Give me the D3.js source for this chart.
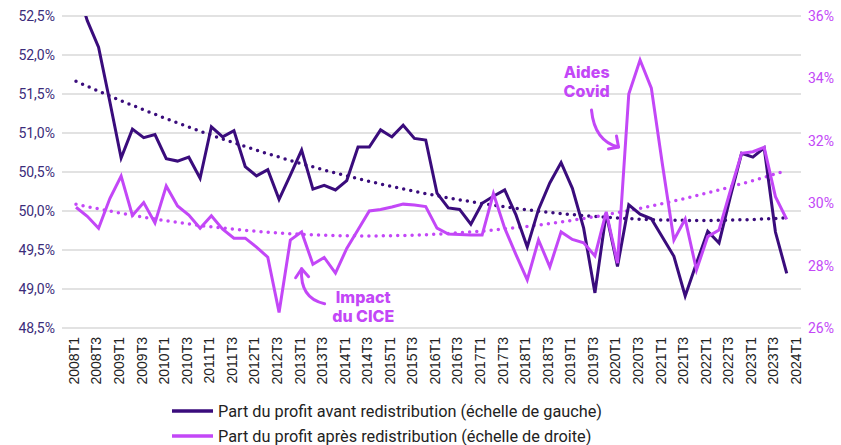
<!DOCTYPE html>
<html lang="fr">
<head>
<meta charset="UTF-8">
<title>Part du profit avant / après redistribution</title>
<script src="https://d3js.org/d3.v7.min.js"></script>
<style>
  body { margin: 0; background: #fff; }
  svg { display: block; font-family: Roboto, "Liberation Sans", sans-serif; }
  .grid line { stroke: #d9d9d9; stroke-width: 1.5; }
  .xlab { font-family: "Liberation Sans", Arial, sans-serif; font-size: 14px; fill: #222; }
  .note { font-family: Inter, "Open Sans", sans-serif; font-weight: 800; font-size: 16px; fill: #c347f7; }
</style>
</head>
<body>
<script>
const quarters = [
  "2008T1","2008T2","2008T3","2008T4","2009T1","2009T2","2009T3","2009T4",
  "2010T1","2010T2","2010T3","2010T4","2011T1","2011T2","2011T3","2011T4",
  "2012T1","2012T2","2012T3","2012T4","2013T1","2013T2","2013T3","2013T4",
  "2014T1","2014T2","2014T3","2014T4","2015T1","2015T2","2015T3","2015T4",
  "2016T1","2016T2","2016T3","2016T4","2017T1","2017T2","2017T3","2017T4",
  "2018T1","2018T2","2018T3","2018T4","2019T1","2019T2","2019T3","2019T4",
  "2020T1","2020T2","2020T3","2020T4","2021T1","2021T2","2021T3","2021T4",
  "2022T1","2022T2","2022T3","2022T4","2023T1","2023T2","2023T3","2023T4",
  "2024T1"
];

// part du profit avant redistribution (%, échelle de gauche)
const avant = [
  52.90, 52.44, 52.10, 51.40, 50.68, 51.05, 50.94, 50.98,
  50.67, 50.64, 50.69, 50.42, 51.08, 50.95, 51.03, 50.57,
  50.45, 50.53, 50.15, 50.46, 50.78, 50.28, 50.33, 50.27,
  50.39, 50.82, 50.82, 51.04, 50.95, 51.10, 50.93, 50.91,
  50.23, 50.04, 50.02, 49.83, 50.10, 50.19, 50.27, 49.95,
  49.54, 50.02, 50.36, 50.62, 50.29, 49.78, 48.95, 49.97,
  49.29, 50.08, 49.96, 49.90, 49.66, 49.42, 48.91, 49.33,
  49.74, 49.59, 50.18, 50.74, 50.69, 50.81, 49.73, 49.20
];

// part du profit après redistribution (%, échelle de droite)
const apres = [
  29.87, 29.58, 29.20, 30.15, 30.87, 29.61, 30.02, 29.37,
  30.55, 29.91, 29.62, 29.20, 29.60, 29.17, 28.88, 28.88,
  28.59, 28.27, 26.50, 28.82, 29.08, 28.04, 28.26, 27.76,
  28.55, 29.15, 29.75, 29.80, 29.88, 29.97, 29.94, 29.89,
  29.20, 29.01, 29.00, 28.98, 28.98, 30.31, 29.20, 28.35,
  27.54, 28.82, 27.96, 29.08, 28.84, 28.73, 28.31, 29.72,
  28.08, 33.50, 34.59, 33.69, 31.20, 28.82, 29.49, 27.86,
  28.93, 29.14, 30.39, 31.60, 31.65, 31.79, 30.21, 29.48
];

const leftTicks = [48.5, 49, 49.5, 50, 50.5, 51, 51.5, 52, 52.5];
const rightTicks = [26, 28, 30, 32, 34, 36];
const seriesNames = [
  "Part du profit avant redistribution (échelle de gauche)",
  "Part du profit après redistribution (échelle de droite)"
];

const dark = "#3a0c7c";
const pink = "#c347f7";
const width = 841, height = 445;
const plot = {left: 62, right: 801, top: 16, bottom: 328};

const svg = d3.select("body").append("svg")
  .attr("width", width)
  .attr("height", height);

const x = d3.scalePoint().domain(quarters).range([76, 798]);
const yL = d3.scaleLinear().domain([48.5, 52.5]).range([plot.bottom, plot.top]);
const yR = d3.scaleLinear().domain([26, 36]).range([plot.bottom, plot.top]);

const fr = d3.formatLocale({decimal: ",", thousands: " ", grouping: [3], currency: ["", " €"]});
const fmtL = v => fr.format(".1f")(v) + "%";
const fmtR = v => fr.format(".0f")(v) + "%";

// grille
svg.append("g").attr("class", "grid")
  .selectAll("line").data(leftTicks).join("line")
  .attr("x1", plot.left).attr("x2", plot.right)
  .attr("y1", d => yL(d)).attr("y2", d => yL(d));

// axe gauche
svg.append("g").selectAll("text").data(leftTicks).join("text")
  .attr("x", 55).attr("y", d => yL(d)).attr("dy", "0.35em")
  .attr("text-anchor", "end")
  .style("font-size", "14px").style("fill", "#3b2c7a")
  .text(fmtL);

// axe droit
svg.append("g").selectAll("text").data(rightTicks).join("text")
  .attr("x", 808).attr("y", d => yR(d)).attr("dy", "0.35em")
  .style("font-size", "14px").style("fill", pink)
  .text(fmtR);

// axe des abscisses (un libellé sur deux)
svg.append("g").selectAll("text")
  .data(quarters.filter((q, i) => i % 2 === 0)).join("text")
  .attr("class", "xlab")
  .attr("transform", d => `translate(${x(d) - 2}, 337) rotate(-90)`)
  .attr("dy", "0.35em")
  .attr("text-anchor", "end")
  .text(d => d);

svg.append("clipPath").attr("id", "plotclip")
  .append("rect")
  .attr("x", plot.left).attr("y", plot.top)
  .attr("width", plot.right - plot.left).attr("height", plot.bottom - plot.top);

const g = svg.append("g").attr("clip-path", "url(#plotclip)");

// tendance polynomiale d'ordre 2 (moindres carrés), comme dans le tableur
function polyfit2(ys) {
  let s = [0, 0, 0, 0, 0], t = [0, 0, 0];
  ys.forEach((y, i) => {
    const u = i + 1;
    for (let k = 0; k < 5; k++) s[k] += Math.pow(u, k);
    for (let k = 0; k < 3; k++) t[k] += y * Math.pow(u, k);
  });
  const M = [[s[0], s[1], s[2]], [s[1], s[2], s[3]], [s[2], s[3], s[4]]];
  const det = m => m[0][0] * (m[1][1] * m[2][2] - m[1][2] * m[2][1])
                 - m[0][1] * (m[1][0] * m[2][2] - m[1][2] * m[2][0])
                 + m[0][2] * (m[1][0] * m[2][1] - m[1][1] * m[2][0]);
  const D = det(M);
  const c = [0, 1, 2].map(j => det(M.map((row, r) => row.map((v, k) => k === j ? t[r] : v))) / D);
  return ys.map((y, i) => c[0] + c[1] * (i + 1) + c[2] * (i + 1) * (i + 1));
}

const trendAvant = polyfit2(avant);
const trendApres = polyfit2(apres);

const lineL = d3.line().x((d, i) => x(quarters[i])).y(d => yL(d));
const lineR = d3.line().x((d, i) => x(quarters[i])).y(d => yR(d));

g.append("path").datum(trendAvant)
  .attr("d", lineL).attr("fill", "none")
  .attr("stroke", dark).attr("stroke-width", 3.5)
  .attr("stroke-linecap", "round").attr("stroke-dasharray", "0 7.2");

g.append("path").datum(trendApres)
  .attr("d", lineR).attr("fill", "none")
  .attr("stroke", pink).attr("stroke-width", 3.5)
  .attr("stroke-linecap", "round").attr("stroke-dasharray", "0 7.2");

g.append("path").datum(avant)
  .attr("d", lineL).attr("fill", "none")
  .attr("stroke", dark).attr("stroke-width", 3)
  .attr("stroke-linejoin", "miter");

g.append("path").datum(apres)
  .attr("d", lineR).attr("fill", "none")
  .attr("stroke", pink).attr("stroke-width", 3)
  .attr("stroke-linejoin", "miter");

// annotations
const covidX = x("2019T2") + 3, covidY = yR(34);
svg.append("text").attr("class", "note")
  .attr("x", covidX).attr("y", covidY).attr("text-anchor", "middle").text("Aides");
svg.append("text").attr("class", "note")
  .attr("x", covidX).attr("y", covidY + 19).attr("text-anchor", "middle").text("Covid");

const tipC = [x("2020T1") + 1, yR(31.8)];
svg.append("path")
  .attr("d", `M${tipC[0] - 27},${tipC[1] - 37} Q${tipC[0] - 24},${tipC[1] - 6} ${tipC[0]},${tipC[1]}`)
  .attr("fill", "none").attr("stroke", pink).attr("stroke-width", 3).attr("stroke-linecap", "round");
svg.append("path")
  .attr("d", `M${tipC[0] - 10},${tipC[1] + 2} L${tipC[0]},${tipC[1]} L${tipC[0] - 2},${tipC[1] - 11}`)
  .attr("fill", "none").attr("stroke", pink).attr("stroke-width", 3)
  .attr("stroke-linecap", "round").attr("stroke-linejoin", "round");

const ciceX = x("2013T3") + 39, ciceY = yR(26.8);
svg.append("text").attr("class", "note")
  .attr("x", ciceX).attr("y", ciceY).attr("text-anchor", "middle").text("Impact");
svg.append("text").attr("class", "note")
  .attr("x", ciceX).attr("y", ciceY + 19).attr("text-anchor", "middle").text("du CICE");

const tipI = [x("2013T1"), yR(27.9)];
svg.append("path")
  .attr("d", `M${tipI[0] + 23},${tipI[1] + 35} Q${tipI[0] - 2},${tipI[1] + 30} ${tipI[0]},${tipI[1]}`)
  .attr("fill", "none").attr("stroke", pink).attr("stroke-width", 3).attr("stroke-linecap", "round");
svg.append("path")
  .attr("d", `M${tipI[0] - 6},${tipI[1] + 9} L${tipI[0]},${tipI[1]} L${tipI[0] + 7},${tipI[1] + 8}`)
  .attr("fill", "none").attr("stroke", pink).attr("stroke-width", 3)
  .attr("stroke-linecap", "round").attr("stroke-linejoin", "round");

// légende
const legend = svg.append("g").selectAll("g")
  .data(seriesNames).join("g")
  .attr("transform", (d, i) => `translate(172, ${411 + i * 25})`);
legend.append("line")
  .attr("x1", 0).attr("x2", 41)
  .attr("stroke", (d, i) => i === 0 ? dark : pink).attr("stroke-width", 3.5);
legend.append("text")
  .attr("x", 46).attr("dy", "0.35em")
  .style("font-size", "16.3px").style("fill", "#222")
  .text(d => d);
</script>
</body>
</html>
